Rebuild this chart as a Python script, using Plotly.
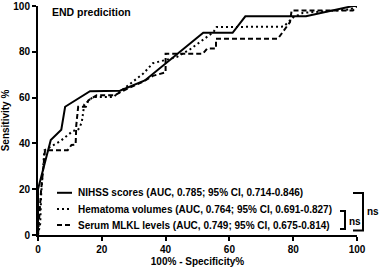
import plotly.graph_objects as go

# ---- data ----
nihss_fpr = [0, 0, 4.0, 7.3, 8.5, 16.3, 25.7, 33.5, 51.8, 61.0, 65.0, 84.0, 98.7, 100]
nihss_tpr = [0, 20, 41.5, 46, 56, 62.8, 63, 67.5, 88.3, 88.3, 95.5, 95.5, 100, 100]

hema_fpr = [0, 0.7, 1.0, 2.0, 7.0, 11.0, 12.5, 13.7, 14.5, 16.3, 17.3, 23.6, 27.8, 33.0, 36.0,
            39.0, 43.5, 47.6, 55.0, 56.0, 77.0, 80.0, 83.0, 98.0, 100]
hema_tpr = [0, 5, 18, 37, 41, 45.5, 45.7, 49, 57, 59, 60.3, 60.3, 65, 70.5, 75,
            76.2, 77.7, 81, 88.6, 90.8, 91, 95, 97, 98.5, 100]

mlkl_fpr = [0, 0.5, 1.0, 2.2, 9.3, 10.5, 11.8, 12.0, 12.6, 15.0, 15.8, 18.4, 24.0, 27.0, 33.0,
            36.0, 40.0, 40.0, 51.7, 53.0, 55.8, 55.8, 75.2, 79.0, 79.5, 98.7, 100]
mlkl_tpr = [0, 10, 20, 37, 37, 39.3, 39.5, 48, 56, 56, 58.8, 61, 61, 63.2, 67,
            69.5, 71, 79.2, 79.2, 81.4, 81.4, 85.7, 85.7, 93, 98, 98, 100]

series_names = ["NIHSS scores (AUC, 0.785; 95% CI, 0.714-0.846)",
                "Hematoma volumes (AUC, 0.764; 95% CI, 0.691-0.827)",
                "Serum MLKL levels (AUC, 0.749; 95% CI, 0.675-0.814)"]
tick_vals = [0, 20, 40, 60, 80, 100]
title_text = "END predicition"
x_title = "100% - Specificity%"
y_title = "Sensitivity %"

# ---- layout geometry (pixels) ----
W, H = 380, 270
L, R, T, B = 38, 23, 5.5, 35
PW, PH = W - L - R, H - T - B


def px(x):
    return (x - L) / PW


def py(y):
    return (H - B - y) / PH


FONT = "Liberation Sans, Arial, sans-serif"
dashes = ["solid", "2px,3px", "5px,3px"]

fig = go.Figure()
for xs, ys, nm, ds in zip([nihss_fpr, hema_fpr, mlkl_fpr],
                          [nihss_tpr, hema_tpr, mlkl_tpr], series_names, dashes):
    fig.add_trace(go.Scatter(x=xs, y=ys, name=nm, mode="lines",
                             line=dict(color="black", width=2, dash=ds),
                             showlegend=False, cliponaxis=False))

shapes = []
annotations = []
# legend
rows = [192.7, 209, 225]
for yy, nm, ds in zip(rows, series_names, dashes):
    shapes.append(dict(type="line", xref="paper", yref="paper",
                       x0=px(57), x1=px(72), y0=py(yy), y1=py(yy),
                       line=dict(color="black", width=2, dash=ds)))
    annotations.append(dict(text="<b>%s</b>" % nm, xref="paper", yref="paper",
                            x=px(76), y=py(yy), xanchor="left", yanchor="middle",
                            showarrow=False, font=dict(size=10, color="black", family=FONT)))

# significance brackets
def bracket(xv, xa, ytop, ybot):
    path = "M %f %f L %f %f L %f %f L %f %f" % (px(xa), py(ytop), px(xv), py(ytop),
                                               px(xv), py(ybot), px(xa), py(ybot))
    return dict(type="path", xref="paper", yref="paper", path=path,
                line=dict(color="black", width=2))

shapes.append(bracket(345, 340, 211, 229))
shapes.append(bracket(363, 353, 193, 230.5))
annotations.append(dict(text="<b>ns</b>", xref="paper", yref="paper", x=px(347), y=py(221),
                        xanchor="left", yanchor="middle", showarrow=False,
                        font=dict(size=10, color="black", family=FONT)))
annotations.append(dict(text="<b>ns</b>", xref="paper", yref="paper", x=px(365), y=py(211.5),
                        xanchor="left", yanchor="middle", showarrow=False,
                        font=dict(size=10, color="black", family=FONT)))
# title inside plot
annotations.append(dict(text="<b>%s</b>" % title_text, xref="paper", yref="paper",
                        x=px(50), y=py(12), xanchor="left", yanchor="middle", showarrow=False,
                        font=dict(size=10.5, color="black", family=FONT)))

axis_common = dict(showgrid=False, zeroline=False, showline=True, linecolor="black",
                   linewidth=2, ticks="outside", ticklen=4, tickwidth=2, tickcolor="black",
                   tickvals=tick_vals, ticktext=["<b>%d</b>" % v for v in tick_vals],
                   tickfont=dict(size=10, color="black", family=FONT))

fig.update_layout(
    width=W, height=H,
    margin=dict(l=L, r=R, t=T, b=B, pad=0, autoexpand=False),
    paper_bgcolor="white", plot_bgcolor="white",
    shapes=shapes, annotations=annotations,
    xaxis=dict(range=[0, 100], automargin=False,
               title=dict(text="<b>%s</b>" % x_title, standoff=4,
                          font=dict(size=10, color="black", family=FONT)),
               **axis_common),
    yaxis=dict(range=[0, 100], automargin=False,
               title=dict(text="<b>%s</b>" % y_title, standoff=2,
                          font=dict(size=10, color="black", family=FONT)),
               **axis_common),
)

fig.write_html("out.html", config={"displayModeBar": False},
               post_script="document.body.style.margin='0';document.body.style.padding='0';")
